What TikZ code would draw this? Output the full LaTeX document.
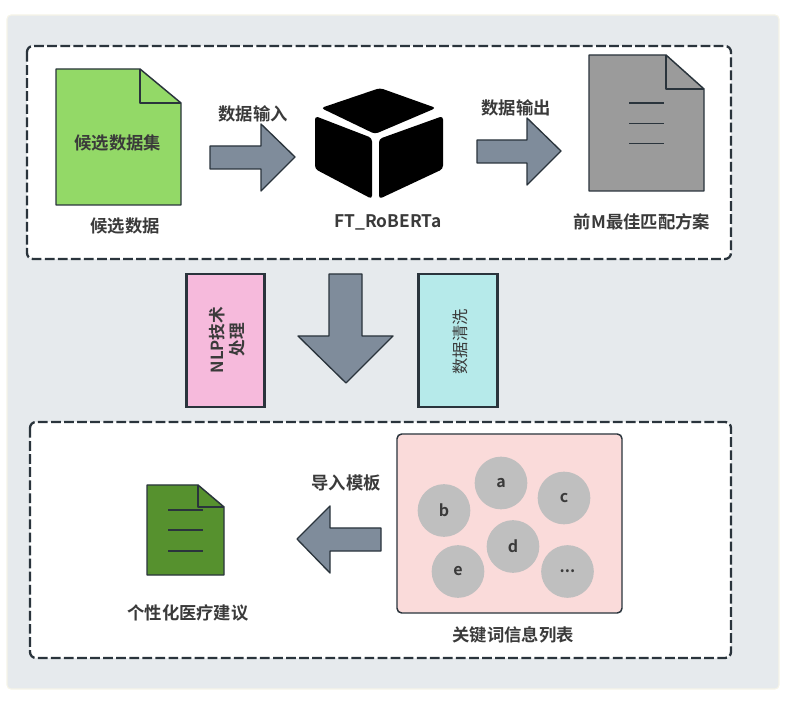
\documentclass[tikz,border=0pt]{standalone}
\usepackage{fontspec}
\setmainfont{Noto Sans CJK SC}[BoldFont={* Bold}]
\definecolor{ink}{HTML}{2A343C}
\definecolor{txt}{HTML}{3A3A3A}
\definecolor{panel}{HTML}{E6EAED}
\definecolor{panelrim}{HTML}{F6F4E8}
\definecolor{arrowc}{HTML}{7F8C9B}
\definecolor{docgreen}{RGB}{147,217,103}
\definecolor{docgrey}{RGB}{155,155,155}
\definecolor{docdark}{RGB}{86,145,46}
\definecolor{notepink}{RGB}{246,186,220}
\definecolor{notecyan}{RGB}{182,234,234}
\definecolor{keypink}{RGB}{250,219,218}
\definecolor{bubgrey}{RGB}{191,191,191}
\tikzset{
  x=0.75pt,y=-0.75pt,
  dashbox/.style={draw=ink,fill=white,line width=1.7pt,rounded corners=4.5pt,dash pattern=on 7.3pt off 2.5pt},
  docshape/.style={draw=ink,line width=1.1pt,line join=round},
  fatarrow/.style={draw=ink,fill=arrowc,line width=1pt,line join=round},
  notebox/.style={draw=ink,line width=1.7pt,minimum height=99.75pt,inner sep=0pt,outer sep=0pt,anchor=north west},
  captext/.style={font=\bfseries\fontsize{13}{15}\selectfont,text=txt,inner sep=0pt},
  bub/.style={circle,fill=bubgrey,minimum size=39.5pt,inner sep=0pt,font=\bfseries\fontsize{12}{14}\selectfont,text=txt},
  docline/.style={draw=ink,line width=0.9pt},
  cubeface/.style={fill=black,rounded corners=2.5pt}
}
\begin{document}
\begin{tikzpicture}
\useasboundingbox (0,0) rectangle (797,709);
\draw[panelrim,fill=panel,line width=0.8pt,rounded corners=3pt] (7,15) rectangle (779,689);
\draw[dashbox] (27,46) rectangle (731,259);
\draw[dashbox] (30,422) rectangle (731,658);

% green document
\draw[docshape,fill=docgreen] (56,69) -- (140,69) -- (181,103) -- (181,205) -- (56,205) -- cycle;
\draw[docshape] (140,69) -- (140,103) -- (181,103);
\node[captext] (docA) at (118,143) {候选数据集};
\node[captext] (capA) at (125,226) {候选数据};

% arrows top
\draw[fatarrow] (210,146) -- (261,146) -- (261,124) -- (295,157) -- (261,191) -- (261,169) -- (210,169) -- cycle;
\node[captext] (lblIn) at (253,114) {数据输入};
\draw[fatarrow] (477,140) -- (527,140) -- (527,118) -- (561,151) -- (527,185) -- (527,163) -- (477,163) -- cycle;
\node[captext] (lblOut) at (516,108) {数据输出};

% cube
\fill[cubeface] (380,88) -- (436,108) -- (375,134) -- (321,108) -- cycle;
\fill[cubeface] (315,116) -- (372,138) -- (372,199) -- (315,169) -- cycle;
\fill[cubeface] (443,116) -- (443,169) -- (379,199) -- (379,139) -- cycle;
\node[captext] (capCube) at (388,222) {FT\_RoBERTa};

% grey doc
\draw[docshape,fill=docgrey] (589,55) -- (666,55) -- (704,89) -- (704,191) -- (589,191) -- cycle;
\draw[docshape] (666,55) -- (666,89) -- (704,89);
\draw[docline] (629,103) -- (664,103);
\draw[docline] (629,123.5) -- (664,123.5);
\draw[docline] (629,143.5) -- (664,143.5);
\node[captext] (capGrey) at (642,222) {前M最佳匹配方案};

% middle row
\node[notebox,minimum width=58.5pt,fill=notepink] (nlp) at (186.5,274) {};
\node[rotate=90,font=\bfseries\fontsize{12.5}{15}\selectfont,text=txt,align=center,inner sep=0pt] (nlpText) at (227,340) {NLP技术\\处理};
\node[notebox,minimum width=59.25pt,fill=notecyan] (clean) at (418.5,274) {};
\node[rotate=90,font=\fontsize{12.2}{14}\selectfont,text=txt,inner sep=0pt] (cleanText) at (460,342) {数据清洗};
\draw[fatarrow] (329,274) -- (362,274) -- (362,336) -- (393,336) -- (346,383) -- (298,336) -- (329,336) -- cycle;

% lower
\draw[docshape,fill=docdark] (147,485) -- (198,485) -- (224,507) -- (224,575) -- (147,575) -- cycle;
\draw[docshape] (198,485) -- (198,507) -- (224,507);
\draw[docline] (168,510) -- (203,510);
\draw[docline] (168,530) -- (203,530);
\draw[docline] (168,551) -- (203,551);
\node[captext] (capDoc) at (188,613) {个性化医疗建议};
\draw[fatarrow] (381,528) -- (330,528) -- (330,506) -- (297,539) -- (330,573) -- (330,551) -- (381,551) -- cycle;
\node[captext] (lblTpl) at (346,483) {导入模板};

\draw[draw=ink,fill=keypink,line width=1.1pt,rounded corners=3.5pt] (397,434) rectangle (622,613);
\node[bub] (a) at (501,483) {a};
\node[bub] (b) at (444,510.5) {b};
\node[bub] (c) at (564,498) {c};
\node[bub] (d) at (513,546.5) {d};
\node[bub] (e) at (458,571.5) {e};
\node[bub] (f) at (567.5,571.5) {...};
\node[captext] (capKey) at (513,635) {关键词信息列表};
\end{tikzpicture}
\end{document}
